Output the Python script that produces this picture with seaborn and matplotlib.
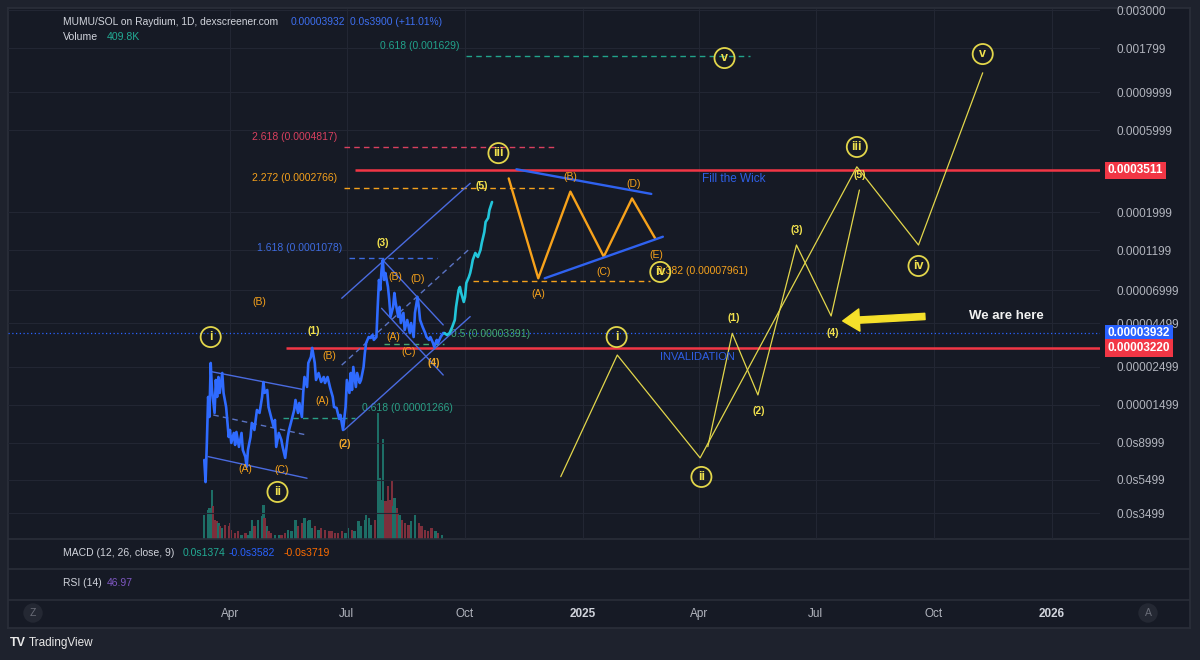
import numpy as np
import pandas as pd
import matplotlib
matplotlib.use("Agg")
import matplotlib.pyplot as plt
import matplotlib.dates as mdates
import matplotlib.transforms as mtransforms
from matplotlib import font_manager
from matplotlib.lines import Line2D
import seaborn as sns

# ---- data -------------------------------------------------------------------
BASE = pd.Timestamp("2024-04-01")   # day 0

# MUMU/SOL daily line, days from 2024-04-01, price in 1e-5 SOL
PRICE_DAYS = [-20, -19, -18, -17, -16, -15, -14, -12, -11, -10,
              -9, -8, -6, -5, -3, -1, 0, 1, 3, 4,
              5, 7, 9, 10, 12, 13, 14, 16, 17, 19,
              21, 23, 25, 26, 27, 29, 30, 32, 34, 35,
              36, 38, 40, 41, 43, 45, 46, 48, 50, 51,
              53, 54, 56, 57, 58, 60, 61, 63, 64, 66,
              67, 69, 71, 73, 74, 76, 78, 80, 81, 83,
              85, 86, 88, 90, 91, 93, 94, 95, 96, 98,
              99, 101, 102, 104, 105, 106, 108, 109, 111, 112,
              114, 115, 116, 117, 118, 119, 120, 121, 123, 124,
              125, 127, 128, 129, 131, 132, 133, 135, 136, 138,
              140, 141, 143, 144, 146, 147, 148, 150, 152, 153,
              155, 156, 158, 159, 161, 162, 164, 166, 167]
PRICE_E5 = [0.716, 0.532, 0.900, 1.669, 1.275, 2.634, 1.833, 1.346, 2.096, 1.669,
            2.182, 1.761, 2.302, 1.761, 1.458, 0.975, 1.071, 0.900, 1.029, 0.876,
            1.043, 0.853, 1.029, 0.819, 0.746, 0.652, 0.819, 0.975, 1.177, 1.071,
            1.401, 1.346, 1.669, 2.040, 1.761, 1.833, 1.458, 1.275, 1.115, 1.225,
            0.853, 1.029, 0.937, 0.853, 0.736, 0.975, 1.071, 1.225, 1.401, 1.602,
            1.346, 1.539, 1.275, 1.761, 2.182, 1.908, 2.634, 2.854, 3.225, 2.634,
            2.096, 2.302, 2.040, 2.182, 2.013, 2.182, 1.883, 1.669, 1.458, 1.439,
            1.242, 1.310, 1.071, 1.458, 2.096, 1.761, 2.302, 1.833, 2.496, 1.908,
            2.302, 2.013, 2.096, 2.496, 3.011, 3.448, 3.732, 3.683, 3.834, 3.590,
            3.732, 5.589, 8.03, 7.02, 9.18, 10.50, 8.03, 8.82, 7.31, 6.14,
            4.888, 5.589, 6.743, 5.898, 4.888, 5.589, 4.505, 5.158, 4.10, 4.69,
            3.938, 4.505, 3.732, 5.158, 6.39, 5.589, 4.69, 4.269, 3.938, 3.732,
            3.590, 3.732, 3.448, 3.268, 3.590, 3.448, 3.732, 3.938, 3.932]

# cyan projected path drawn after the last candle
PATH_DAYS = [167, 169, 171, 173, 175, 176, 178, 179, 180, 182, 183, 184, 186, 187,
             188, 189, 191, 192, 193, 195, 196, 198, 199, 200, 201, 202, 204]
PATH_E5 = [3.932, 3.834, 3.938, 4.269, 4.69, 5.589, 7.02, 7.31, 6.743, 5.977, 6.39,
           7.71, 8.36, 8.82, 9.56, 10.50, 11.54, 11.23, 10.93, 12.01, 13.19, 15.28,
           17.49, 17.97, 18.46, 20.55, 22.88]

# volume (millions)
VOL_DAYS = [-20, -17, -16, -14, -13, -12, -10, -9, -8, -6,
            -4, -1, 0, 1, 4, 6, 9, 12, 14, 16,
            17, 19, 22, 25, 26, 27, 29, 30, 32, 35,
            38, 40, 43, 45, 48, 51, 53, 56, 58, 61,
            62, 64, 66, 69, 71, 74, 77, 79, 82, 84,
            87, 90, 92, 95, 97, 100, 102, 105, 106, 108,
            110, 113, 115, 117, 118, 119, 121, 123, 125, 126,
            127, 128, 130, 131, 132, 134, 136, 139, 141, 144,
            147, 149, 152, 154, 157, 160, 162, 165]
VOL_M = [2.4, 2.9, 3.1, 4.9, 3.3, 1.9, 1.8, 1.6, 1.3, 1.1,
         1.4, 1.3, 1.6, 0.9, 0.6, 0.8, 0.4, 0.6, 0.4, 0.8,
         1.9, 1.3, 1.9, 2.3, 3.4, 2.1, 1.3, 0.8, 0.6, 0.4,
         0.4, 0.4, 0.6, 0.9, 0.8, 1.9, 1.3, 1.6, 2.1, 1.8,
         1.9, 1.1, 1.3, 0.9, 1.1, 0.9, 0.8, 0.8, 0.6, 0.6,
         0.8, 0.6, 1.1, 0.9, 0.8, 1.8, 1.3, 1.9, 2.4, 2.1,
         1.4, 1.9, 12.6, 6.1, 3.9, 10.0, 3.8, 5.3, 3.9, 5.9,
         3.3, 4.1, 3.1, 2.6, 2.4, 1.9, 1.6, 1.4, 1.8, 2.4,
         1.6, 1.3, 0.9, 0.8, 1.1, 0.8, 0.6, 0.41]

# fibonacci levels
FIB_LABELS = ["0.618 (0.001629)", "2.618 (0.0004817)", "2.272 (0.0002766)",
              "1.618 (0.0001078)", "0.382 (0.00007961)", "0.5 (0.00003391)",
              "0.618 (0.00001266)"]
FIB_PRICES = [0.001629, 0.0004817, 0.0002766, 0.0001078, 0.00007961, 0.00003391, 0.00001266]
FIB_START = [184, 89, 89, 93, 189, 120, 41]
FIB_END = [405, 253, 253, 161, 327, 167, 97]
FIB_SIDE = ["left", "left", "left", "left", "right", "right", "right"]
FIB_COLORS = ["#21a38b", "#d9405f", "#f5a11c", "#3d6be0", "#f5a11c", "#43a86f", "#2a9f86"]

# red key levels
RED_LEVELS = [0.0003511, 0.00003220]
RED_START = [97, 44]
LAST_PRICE = 0.00003932

# elliott wave labels
WAVE_TEXT = ["i", "ii", "iii", "iv", "v", "i", "ii", "iii", "iv", "v"]
WAVE_DAYS = [-15, 37, 209, 335, 385, 301, 367, 488, 536, 586]
WAVE_PRICES = [3.73e-5, 4.66e-6, 4.41e-4, 8.94e-5, 1.581e-3,
               3.73e-5, 5.70e-6, 4.79e-4, 9.69e-5, 1.668e-3]

NUM_TEXT = ["(1)", "(2)", "(3)", "(4)", "(5)", "(1)", "(2)", "(3)", "(4)", "(5)"]
NUM_DAYS = [65, 89, 119, 159, 196, 392, 412, 441, 469, 490]
NUM_PRICES = [4.05e-5, 8.88e-6, 1.319e-4, 2.634e-5, 2.835e-4,
              4.82e-5, 1.382e-5, 1.570e-4, 3.94e-5, 3.29e-4]
NUM_COLORS = ["#f2e24e", "#f0a82a", "#f2e24e", "#f0a82a", "#f2e24e",
              "#f2e24e", "#f2e24e", "#f2e24e", "#f2e24e", "#f2e24e"]

ABC_TEXT = ["(B)", "(A)", "(C)", "(B)", "(A)", "(B)", "(D)", "(A)", "(C)",
            "(B)", "(D)", "(A)", "(C)", "(E)"]
ABC_DAYS = [23, 12, 40, 77, 72, 129, 146, 127, 139, 265, 314, 240, 291, 332]
ABC_PRICES = [5.98e-5, 6.35e-6, 6.26e-6, 2.89e-5, 1.58e-5, 8.36e-5, 8.14e-5,
              3.73e-5, 3.05e-5, 3.20e-4, 2.91e-4, 6.65e-5, 8.94e-5, 1.123e-4]

# yellow projected waves
BIG_WAVE_DAYS = [257.5, 301.5, 366, 488, 536, 586]
BIG_WAVE_PRICES = [5.72e-6, 2.93e-5, 7.36e-6, 3.67e-4, 1.284e-4, 1.297e-3]
SUB_WAVE_DAYS = [372, 391, 411, 441, 468, 490]
SUB_WAVE_PRICES = [8.56e-6, 3.92e-5, 1.714e-5, 1.284e-4, 4.95e-5, 2.687e-4]

# orange triangle and its blue boundaries
TRI_DAYS = [217, 240, 265, 291, 313, 331]
TRI_PRICES = [3.14e-4, 8.21e-5, 2.63e-4, 1.098e-4, 2.40e-4, 1.405e-4]
TRI_UPPER_DAYS = [223, 328]
TRI_UPPER_PRICES = [3.55e-4, 2.55e-4]
TRI_LOWER_DAYS = [245, 337]
TRI_LOWER_PRICES = [8.21e-5, 1.435e-4]

# channel lines (start/end)
CHANNEL_DAYS = [(-14, 56), (-17, 60), (89, 187), (87, 187), (119, 166), (118, 166)]
CHANNEL_PRICES = [(2.34e-5, 1.85e-5), (7.49e-6, 5.60e-6), (1.071e-5, 4.91e-5),
                  (6.28e-5, 2.94e-4), (1.050e-4, 4.39e-5), (5.49e-5, 2.24e-5)]
MID_DAYS = [(-13, 60), (87, 187)]
MID_PRICES = [(1.31e-5, 1.0e-5), (2.56e-5, 1.229e-4)]

# axis ticks
TIME_TICKS = ["2024-04-01", "2024-07-01", "2024-10-01", "2025-01-01",
              "2025-04-01", "2025-07-01", "2025-10-01", "2026-01-01"]
TIME_LABELS = ["Apr", "Jul", "Oct", "2025", "Apr", "Jul", "Oct", "2026"]
PRICE_TICKS = [0.003, 0.001799, 0.0009999, 0.0005999, 0.0001999, 0.0001199,
               0.00006999, 0.00004499, 0.00002499, 0.00001499, 0.000008999,
               0.000005499, 0.000003499]
PRICE_TICK_LABELS = ["0.003000", "0.001799", "0.0009999", "0.0005999", "0.0001999",
                     "0.0001199", "0.00006999", "0.00004499", "0.00002499",
                     "0.00001499", "0.0s8999", "0.0s5499", "0.0s3499"]
BOX_PRICES = [0.0003511, 0.00003932, 0.00003220]
BOX_LABELS = ["0.0003511", "0.00003932", "0.00003220"]

# ---- style ------------------------------------------------------------------
OUTER = "#1e222d"
PANEL = "#161a25"
BORDER = "#2a2e39"
GRID = "#222633"
TEXT = "#b2b5be"
RED = "#f23645"
BLUE = "#2962ff"
PRICE_BLUE = "#2f6bff"
CYAN = "#22c5da"
YELLOW = "#e2d64b"
ORANGE = "#f7a21b"
CHANNEL = "#4a6be0"

sns.set_theme(style="dark")
names = {f.name for f in font_manager.fontManager.ttflist}
main_font = "Liberation Sans Narrow" if "Liberation Sans Narrow" in names else "Liberation Sans"
plt.rcParams["font.family"] = [main_font, "DejaVu Sans"]

W, H = 1200, 660


def fx(px):
    return px / W


def fy(py):
    return 1 - py / H


def to_num(days):
    days = np.atleast_1d(np.asarray(days, dtype=float))
    return mdates.date2num(BASE + pd.to_timedelta(days, unit="D"))


fig = plt.figure(figsize=(12, 6.6), dpi=100, facecolor=OUTER)

frame = fig.add_axes([fx(8), fy(628), fx(1190) - fx(8), fy(8) - fy(628)], zorder=0)
frame.set_facecolor(PANEL)
frame.set_xticks([])
frame.set_yticks([])
for s in frame.spines.values():
    s.set_color(BORDER)
for py in (539, 569, 600):
    fig.add_artist(Line2D([fx(8), fx(1190)], [fy(py), fy(py)], color=BORDER, lw=1.2))

main_rect = [fx(8), fy(539), fx(1100) - fx(8), fy(9) - fy(539)]
xlim = (to_num(-172.8)[0], to_num(677.3)[0])
ylim = (2.477e-6, 3.055e-3)

# volume overlay
vax = fig.add_axes(main_rect, zorder=1)
vax.patch.set_visible(False)
log_p = np.log10(np.array(PRICE_E5))
vol_days = np.array(VOL_DAYS, dtype=float)
up = np.interp(vol_days, PRICE_DAYS, log_p) >= np.interp(vol_days - 1.5, PRICE_DAYS, log_p)
vol_colors = np.where(up, "#1d6e66", "#7d2f3c")
vax.bar(to_num(VOL_DAYS), VOL_M, width=1.8, color=vol_colors, linewidth=0)
vax.set_xlim(xlim)
vax.set_ylim(0, 53)
vax.axis("off")

ax = fig.add_axes(main_rect, zorder=2)
ax.patch.set_visible(False)
ax.set_yscale("log")
ax.set_xlim(xlim)
ax.set_ylim(ylim)
for s in ax.spines.values():
    s.set_visible(False)

ax.yaxis.set_minor_locator(matplotlib.ticker.NullLocator())
ax.set_yticks(PRICE_TICKS)
ax.set_yticklabels(PRICE_TICK_LABELS)
ax.yaxis.tick_right()
ax.tick_params(axis="y", length=0, pad=12, labelsize=8.5, labelcolor=TEXT)
ax.set_xticks(to_num([(pd.Timestamp(t) - BASE).days for t in TIME_TICKS]))
ax.tick_params(axis="x", length=0, labelbottom=False)
ax.grid(True, color=GRID, lw=0.8)
ax.set_axisbelow(True)

# key levels
trans_box = mtransforms.blended_transform_factory(ax.transAxes, ax.transData)
ax.axhline(LAST_PRICE, color=BLUE, ls=(0, (1, 2)), lw=0.9, zorder=2)
for lvl, start in zip(RED_LEVELS, RED_START):
    ax.hlines(lvl, to_num(start)[0], xlim[1], color=RED, lw=1.8, zorder=3)

# fib levels
for lab, p, a, b, side, c in zip(FIB_LABELS, FIB_PRICES, FIB_START, FIB_END, FIB_SIDE, FIB_COLORS):
    ax.hlines(p, to_num(a)[0], to_num(b)[0], color=c, lw=1.0, linestyles=(0, (4, 3)), zorder=2)
    if side == "left":
        ax.annotate(lab, (to_num(a)[0], p), xytext=(-5, 7), textcoords="offset points",
                    ha="right", va="center", fontsize=7.5, color=c)
    else:
        ax.annotate(lab, (to_num(b)[0], p), xytext=(5, 7), textcoords="offset points",
                    ha="left", va="center", fontsize=7.5, color=c)

# channels
for (a, b), (pa, pb) in zip(CHANNEL_DAYS, CHANNEL_PRICES):
    ax.plot(to_num([a, b]), [pa, pb], color=CHANNEL, lw=1.0, zorder=3)
for (a, b), (pa, pb) in zip(MID_DAYS, MID_PRICES):
    ax.plot(to_num([a, b]), [pa, pb], color="#5a73c4", lw=1.0, ls=(0, (4, 3)), zorder=3)

# price history and projected path
sns.lineplot(x=to_num(PRICE_DAYS), y=np.array(PRICE_E5) * 1e-5, ax=ax,
             color=PRICE_BLUE, lw=1.9, estimator=None, zorder=4)
sns.lineplot(x=to_num(PATH_DAYS), y=np.array(PATH_E5) * 1e-5, ax=ax,
             color=CYAN, lw=1.9, estimator=None, zorder=4)

# triangle
ax.plot(to_num(TRI_DAYS), TRI_PRICES, color=ORANGE, lw=1.7, zorder=4)
ax.plot(to_num(TRI_UPPER_DAYS), TRI_UPPER_PRICES, color="#2f62f0", lw=1.7, zorder=4)
ax.plot(to_num(TRI_LOWER_DAYS), TRI_LOWER_PRICES, color="#2f62f0", lw=1.7, zorder=4)

# yellow waves
ax.plot(to_num(BIG_WAVE_DAYS), BIG_WAVE_PRICES, color=YELLOW, lw=0.9, zorder=4)
ax.plot(to_num(SUB_WAVE_DAYS), SUB_WAVE_PRICES, color=YELLOW, lw=0.9, zorder=4)

# labels
ax.scatter(to_num(WAVE_DAYS), WAVE_PRICES, s=210, facecolors="none",
           edgecolors=YELLOW, linewidths=1.3, zorder=6)
for t, d, p in zip(WAVE_TEXT, WAVE_DAYS, WAVE_PRICES):
    ax.text(to_num(d)[0], p, t, ha="center", va="center", fontsize=9,
            fontweight="bold", color="#f0e24e", zorder=7)
for t, d, p, c in zip(NUM_TEXT, NUM_DAYS, NUM_PRICES, NUM_COLORS):
    ax.text(to_num(d)[0], p, t, ha="center", va="center", fontsize=7.5,
            fontweight="bold", color=c, zorder=7)
for t, d, p in zip(ABC_TEXT, ABC_DAYS, ABC_PRICES):
    ax.text(to_num(d)[0], p, t, ha="center", va="center", fontsize=7.5,
            color=ORANGE, zorder=7)

ax.text(to_num(392)[0], 3.11e-4, "Fill the Wick", ha="center", va="center",
        fontsize=8.5, color="#2f5fe6", zorder=7)
ax.text(to_num(364)[0], 2.85e-5, "INVALIDATION", ha="center", va="center",
        fontsize=8, color="#2f5fe6", zorder=7)
ax.text(to_num(575)[0], 4.95e-5, "We are here", ha="left", va="center",
        fontsize=9.5, fontweight="bold", color="#f2f2f2", zorder=7)
ax.annotate("", xy=(to_num(477)[0], 4.63e-5), xytext=(to_num(541)[0], 4.92e-5),
            arrowprops=dict(arrowstyle="simple,head_width=1.6,head_length=1.2,tail_width=0.45",
                            fc="#f5e02a", ec="#f5e02a", mutation_scale=10,
                            shrinkA=0, shrinkB=0), zorder=7)

# price boxes on the scale
for p, lab, c in zip(BOX_PRICES, BOX_LABELS, [RED, BLUE, RED]):
    ax.text(1.0073, p, lab, transform=trans_box, ha="left", va="center",
            fontsize=8.5, color="white", fontweight="bold", zorder=8, clip_on=False,
            bbox=dict(boxstyle="square,pad=0.22", fc=c, ec="none"))

# time axis below the indicator panes
tax = fig.add_axes([fx(8), fy(600), fx(1100) - fx(8), fy(569) - fy(600)], zorder=1)
tax.patch.set_visible(False)
for s in tax.spines.values():
    s.set_visible(False)
tax.set_xlim(xlim)
tax.set_yticks([])
tax.set_xticks(to_num([(pd.Timestamp(t) - BASE).days for t in TIME_TICKS]))
tax.set_xticklabels(TIME_LABELS)
tax.tick_params(axis="x", length=0, pad=6, labelsize=8.5, labelcolor=TEXT)
for lab in tax.get_xticklabels():
    if lab.get_text().isdigit():
        lab.set_fontweight("bold")
        lab.set_color("#d1d4dc")

# header and pane legends
fig.text(fx(63), fy(22), "MUMU/SOL on Raydium, 1D, dexscreener.com", fontsize=7.4,
         color="#d1d4dc", va="center")
fig.text(fx(291), fy(22), "0.00003932", fontsize=7.4, color="#3d6ff0", va="center")
fig.text(fx(350), fy(22), "0.0s3900 (+11.01%)", fontsize=7.4, color="#3d6ff0", va="center")
fig.text(fx(63), fy(37), "Volume", fontsize=7.6, color="#d1d4dc", va="center")
fig.text(fx(107), fy(37), "409.8K", fontsize=7.6, color="#22ab94", va="center")
fig.text(fx(63), fy(553), "MACD (12, 26, close, 9)", fontsize=7.5, color="#d1d4dc", va="center")
fig.text(fx(183), fy(553), "0.0s1374", fontsize=7.5, color="#22ab94", va="center")
fig.text(fx(229), fy(553), "-0.0s3582", fontsize=7.5, color="#2962ff", va="center")
fig.text(fx(284), fy(553), "-0.0s3719", fontsize=7.5, color="#ff6d00", va="center")
fig.text(fx(63), fy(583), "RSI (14)", fontsize=7.5, color="#d1d4dc", va="center")
fig.text(fx(107), fy(583), "46.97", fontsize=7.5, color="#7e57c2", va="center")

for px, letter in ((33, "Z"), (1148, "A")):
    fig.text(fx(px), fy(613), letter, fontsize=7.5, color="#6a6d78", ha="center", va="center",
             bbox=dict(boxstyle="circle,pad=0.45", fc="#242833", ec="none"))

fig.text(fx(10), fy(643), "TV", fontsize=9, fontweight="bold", color="#e8e8e8", va="center")
fig.text(fx(29), fy(643), "TradingView", fontsize=8.5, color="#e8e8e8", va="center")

fig.savefig("out.png", dpi=100, facecolor=OUTER)
